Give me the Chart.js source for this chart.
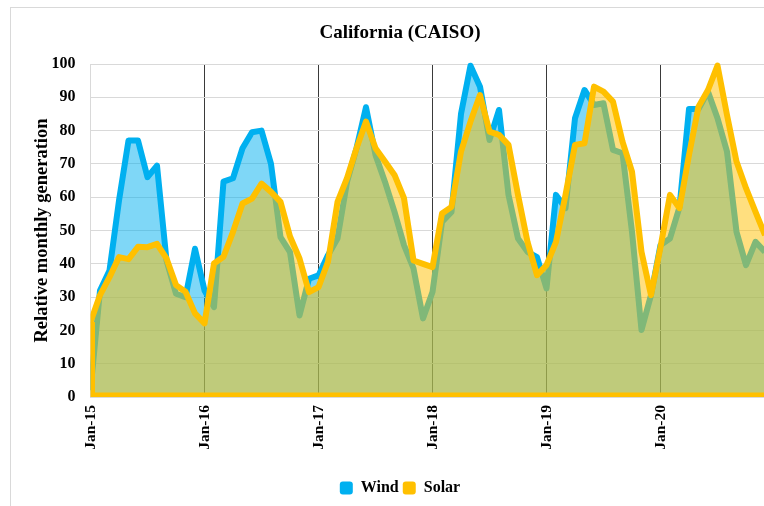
<!DOCTYPE html>
<html><head><meta charset="utf-8">
<script src="https://cdn.jsdelivr.net/npm/chart.js@4"></script>
<style>
html,body{margin:0;padding:0;background:#fff;overflow:hidden;width:764px;height:506px}
#box{position:absolute;left:10px;top:7px;width:766px;height:505px;border:1px solid #d9d9d9;background:#fff}
#c{position:absolute;left:0;top:0}
</style></head><body>
<div id="box"><canvas id="c" width="758" height="498" style="width:758px;height:498px"></canvas></div>
<script>
const monthNames = ['Jan','Feb','Mar','Apr','May','Jun','Jul','Aug','Sep','Oct','Nov','Dec'];
const years = ['15','16','17','18','19','20'];
const categories = years.flatMap(yr => monthNames.map(m => m + '-' + yr));
const yTicks = [0,10,20,30,40,50,60,70,80,90,100];

const wind = [
  2, 32, 38, 59, 77, 77, 66, 69.5, 41, 31, 30, 44.5,
  32, 27, 64.7, 65.7, 74.7, 79.5, 80, 70, 48, 43.5, 24.5, 35.5,
  36.5, 42.6, 47.6, 64.6, 74.7, 87, 72.7, 64.6, 55.6, 45.6, 38.6, 23.6,
  31.5, 52.6, 55.6, 85, 99.5, 93.2, 77.2, 86.2, 60.7, 47.6, 43.6, 42,
  32.6, 60.7, 56.7, 83.7, 92.2, 87.7, 88.2, 74.2, 73.2, 49.6, 20.1, 30.6,
  45.6, 47.6, 57, 86.5, 86.5, 91.7, 83.7, 73.7, 49.6, 39.6, 46.6, 43.6
];
const solar = [
  22.5, 30.6, 36, 42, 41.4, 45.1, 45, 46, 41.6, 33.6, 31.6, 25.1,
  22.1, 40.1, 42.1, 49.6, 58.1, 59.6, 64.1, 61.6, 58.6, 48.2, 41.6, 31.5,
  33, 40.6, 58.6, 65.7, 74.7, 82.7, 74.7, 70.7, 66.7, 59.7, 41, 40,
  39, 55.1, 57.1, 73.7, 82.7, 90.7, 79.7, 78.7, 75.7, 60.7, 46.6, 36.6,
  39.6, 46.6, 60.7, 75.7, 76.2, 93.2, 91.7, 88.7, 76.7, 67.7, 43.6, 30.6,
  45, 60.7, 56.7, 72.7, 87.2, 92.2, 99.5, 84.7, 70.7, 62.7, 55.6, 48.6
];

const FONT = "'Liberation Serif','Times New Roman',serif";
Chart.defaults.font.family = FONT;
Chart.defaults.font.weight = 'bold';
Chart.defaults.color = '#000';

const areaEdges = {
  id: 'areaEdges',
  afterDatasetsDraw(chart) {
    const {ctx, chartArea: a, scales: {x, y}} = chart;
    ctx.save();
    ctx.beginPath();
    ctx.rect(a.left, a.top, a.right - a.left, a.bottom - a.top);
    ctx.clip();
    ctx.strokeStyle = '#FFC000';
    ctx.lineWidth = 9;
    ctx.lineJoin = 'round';
    ctx.beginPath();
    ctx.moveTo(x.getPixelForValue(0), y.getPixelForValue(solar[0]));
    ctx.lineTo(x.getPixelForValue(0), y.getPixelForValue(0));
    ctx.lineTo(x.getPixelForValue(solar.length - 1) + 10, y.getPixelForValue(0));
    ctx.stroke();
    ctx.restore();
  }
};

new Chart(document.getElementById('c'), {
  type: 'line',
  data: {
    labels: categories,
    datasets: [
      {
        label: 'Wind', data: wind, order: 1,
        borderColor: '#00B0F0', backgroundColor: 'rgba(0,176,240,0.5)',
        borderWidth: 6, fill: 'origin', tension: 0, pointRadius: 0,
        borderJoinStyle: 'round', clip: {left: 0, top: 3, right: 0, bottom: 0}
      },
      {
        label: 'Solar', data: solar, order: 0,
        borderColor: '#FFC000', backgroundColor: 'rgba(255,192,0,0.5)',
        borderWidth: 6, fill: 'origin', tension: 0, pointRadius: 0,
        borderJoinStyle: 'round', clip: {left: 0, top: 3, right: 0, bottom: 0}
      }
    ]
  },
  options: {
    responsive: false,
    animation: false,
    events: [],
    layout: {padding: {left: 24, right: 4, top: 0, bottom: 0}},
    scales: {
      x: {
        type: 'category',
        grid: {
          drawTicks: false,
          lineWidth: 1,
          color: ctx => ctx.index === 0 ? '#d9d9d9' : (ctx.index % 12 === 0 ? '#3a3a3a' : 'rgba(0,0,0,0)')
        },
        border: {display: false},
        ticks: {
          autoSkip: false, maxRotation: 90, minRotation: 90, padding: 8,
          font: {size: 15.5, weight: 'bold'},
          callback: (v, i) => i % 12 === 0 ? categories[i] : ''
        },
        afterFit: s => { s.height = 79; s.paddingLeft = 0; s.paddingRight = 0; }
      },
      y: {
        min: 0, max: 100,
        afterBuildTicks: s => { s.ticks = yTicks.map(v => ({value: v})); },
        grid: {drawTicks: false, color: '#d9d9d9', lineWidth: 1},
        border: {display: true, color: '#d9d9d9'},
        ticks: {padding: 15, font: {size: 16, weight: 'bold'}},
        title: {
          display: true, text: 'Relative monthly generation',
          font: {size: 18.5, weight: 'bold', lineHeight: 1}, padding: {top: -2, bottom: 0}
        },
        afterFit: s => { s.width = 55.5; }
      }
    },
    plugins: {
      title: {
        display: true, text: 'California (CAISO)',
        font: {size: 19, weight: 'bold', lineHeight: 1.25}, color: '#000',
        padding: {top: 13, bottom: 19.25}
      },
      legend: {
        position: 'bottom',
        labels: {
          boxWidth: 13, boxHeight: 13, padding: 4,
          useBorderRadius: true, borderRadius: 3,
          font: {size: 16, weight: 'bold'}, color: '#000',
          sort: (a, b) => a.datasetIndex - b.datasetIndex,
          generateLabels(chart) {
            const items = Chart.defaults.plugins.legend.labels.generateLabels(chart);
            items.forEach(it => {
              const ds = chart.data.datasets[it.datasetIndex];
              it.fillStyle = ds.borderColor;
              it.strokeStyle = ds.borderColor;
              it.lineWidth = 0;
            });
            return items;
          }
        }
      },
      tooltip: {enabled: false}
    }
  },
  plugins: [areaEdges]
});
</script>
</body></html>
